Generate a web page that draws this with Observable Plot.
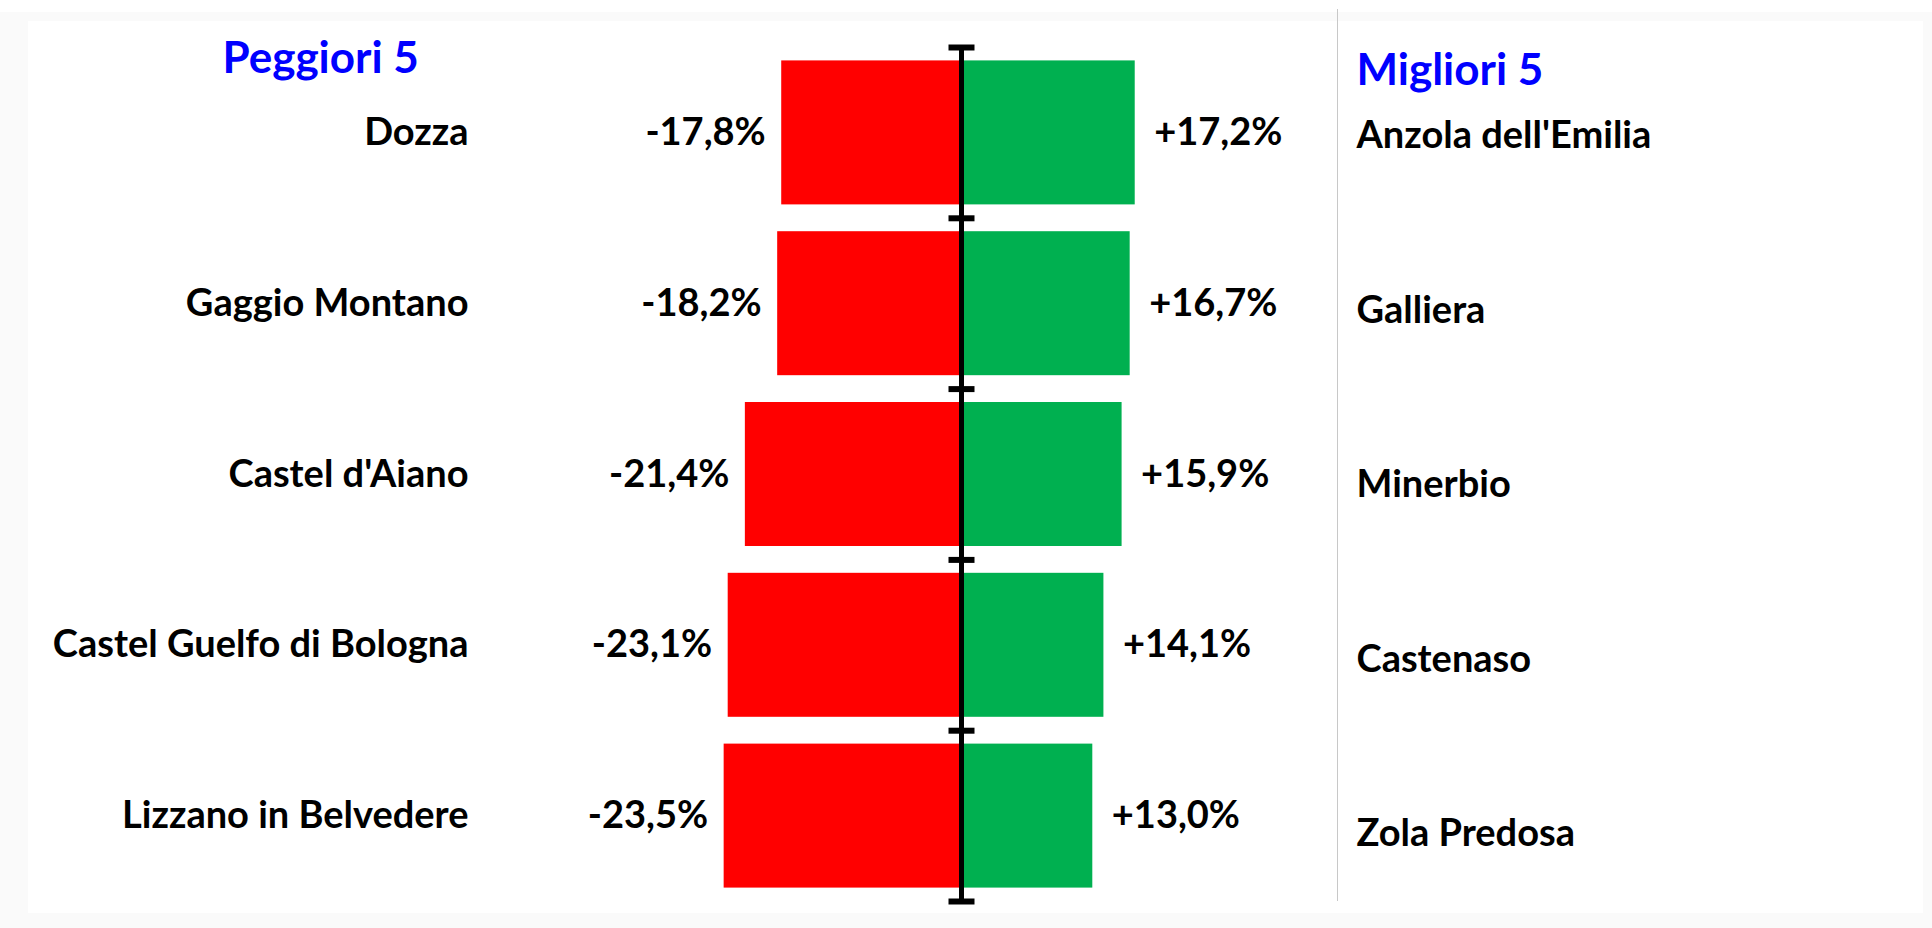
<!DOCTYPE html>
<html>
<head>
<meta charset="utf-8">
<script src="https://cdn.jsdelivr.net/npm/d3@7"></script>
<script src="https://cdn.jsdelivr.net/npm/@observablehq/plot@0.6"></script>
<style>
  html, body { margin: 0; padding: 0; background: #fafafa; }
  #wrap { position: relative; width: 1932px; height: 928px; overflow: hidden; }
  #topwhite { position: absolute; left: 0; top: 0; width: 1932px; height: 12px; background: #fff; }
  #panel { position: absolute; left: 28px; top: 21px; width: 1895px; height: 892px; background: #fff; }
  #chart { position: absolute; left: 0; top: 0; }
  #divider { position: absolute; left: 1337px; top: 9px; width: 1px; height: 892px; background: #c8c8c8; }
</style>
</head>
<body>
<div id="wrap">
  <div id="topwhite"></div>
  <div id="panel"></div>
  <div id="divider"></div>
  <div id="chart"></div>
</div>
<script>
// ---- data ----
const worstNames = ["Dozza", "Gaggio Montano", "Castel d'Aiano", "Castel Guelfo di Bologna", "Lizzano in Belvedere"];
const worstValues = [-17.8, -18.2, -21.4, -23.1, -23.5];
const bestNames = ["Anzola dell'Emilia", "Galliera", "Minerbio", "Castenaso", "Zola Predosa"];
const bestValues = [17.2, 16.7, 15.9, 14.1, 13.0];
const headings = ["Peggiori 5", "Migliori 5"];

// ---- tables built from the arrays ----
const worst = worstNames.map((name, i) => ({name, value: worstValues[i], i}));
const best = bestNames.map((name, i) => ({name, value: bestValues[i], i}));
const bounds = d3.range(worstNames.length + 1);

const fmt = v => (v > 0 ? "+" : "-") + Math.abs(v).toFixed(1).replace(".", ",") + "%";

const W = 1932, H = 928;
const pxPerUnit = 10.1, zeroPx = 961;
const pad = 0.0785;
const font = "Lato, 'Open Sans', sans-serif";
const labelSize = 38;

// right-hand names sit in their own text box, on a slightly taller grid
const rightStart = 0.518, rightStep = 1.022;

const hline = {
  draw(ctx, size) {
    const r = Math.sqrt(size / Math.PI);
    ctx.moveTo(-r, 0);
    ctx.lineTo(r, 0);
  }
};

const chart = Plot.plot({
  width: W,
  height: H,
  marginLeft: 0,
  marginRight: 0,
  marginTop: 47,
  marginBottom: 27,
  style: {background: "transparent", fontFamily: font, overflow: "visible"},
  x: {domain: [-zeroPx / pxPerUnit, (W - zeroPx) / pxPerUnit], axis: null},
  y: {domain: [0, worstNames.length], reverse: true, axis: null},
  marks: [
    Plot.rect(worst, {x1: 0, x2: "value", y1: d => d.i + pad, y2: d => d.i + 1 - pad, fill: "#ff0000"}),
    Plot.rect(best, {x1: 0, x2: "value", y1: d => d.i + pad, y2: d => d.i + 1 - pad, fill: "#00b050"}),
    Plot.ruleX([0], {y1: 0, y2: worstNames.length, stroke: "#000", strokeWidth: 5}),
    Plot.dot(bounds, {x: 0, y: d => d, symbol: hline, r: 13, stroke: "#000", strokeWidth: 6}),
    // category names
    Plot.text(worst, {y: d => d.i + 0.5, frameAnchor: "left", dx: 468, textAnchor: "end", text: "name",
      fontSize: labelSize, fontWeight: "bold", fill: "#000"}),
    Plot.text(best, {y: d => rightStart + d.i * rightStep, frameAnchor: "left", dx: 1356, textAnchor: "start", text: "name",
      fontSize: labelSize, fontWeight: "bold", fill: "#000"}),
    // value labels
    Plot.text(worst, {x: "value", y: d => d.i + 0.5, text: d => fmt(d.value), textAnchor: "end", dx: -16,
      fontSize: labelSize, fontWeight: "bold", fill: "#000"}),
    Plot.text(best, {x: "value", y: d => d.i + 0.5, text: d => fmt(d.value), textAnchor: "start", dx: 19,
      fontSize: labelSize, fontWeight: "bold", fill: "#000"}),
    // headings
    Plot.text([headings[0]], {frameAnchor: "top-left", dx: 222, dy: 11, lineAnchor: "middle", textAnchor: "start", text: d => d,
      fontSize: 44, fontWeight: "bold", fill: "#0000ff"}),
    Plot.text([headings[1]], {frameAnchor: "top-left", dx: 1356, dy: 23, lineAnchor: "middle", textAnchor: "start", text: d => d,
      fontSize: 44, fontWeight: "bold", fill: "#0000ff"})
  ]
});
document.getElementById("chart").appendChild(chart);
</script>
</body>
</html>
